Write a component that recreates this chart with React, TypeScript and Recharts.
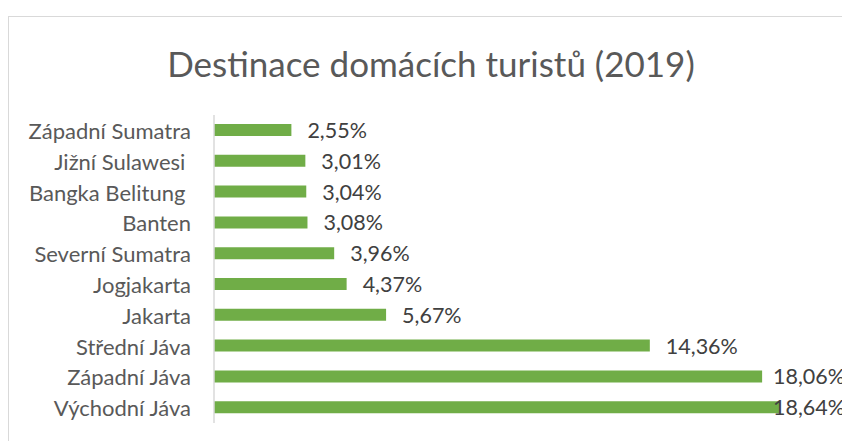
import React from 'react';
import { BarChart, Bar, XAxis, YAxis, LabelList } from 'recharts';

const categories = [
  'Západní Sumatra',
  'Jižní Sulawesi ',
  'Bangka Belitung ',
  'Banten',
  'Severní Sumatra',
  'Jogjakarta',
  'Jakarta',
  'Střední Jáva',
  'Západní Jáva',
  'Východní Jáva',
];
const shares = [2.55, 3.01, 3.04, 3.08, 3.96, 4.37, 5.67, 14.36, 18.06, 18.64];
const title = 'Destinace domácích turistů (2019)';

const data = categories.map((name, i) => ({ name, value: shares[i] }));

const FONT = 'Lato, "Open Sans", sans-serif';

const CategoryTick = (props: any) => {
  const { x, y, payload } = props;
  return (
    <text
      x={x - 15}
      y={y}
      textAnchor="end"
      dominantBaseline="central"
      xmlSpace="preserve"
      style={{ whiteSpace: 'pre' }}
      fill="#595959"
      fontSize={22}
      fontFamily={FONT}
    >
      {payload.value}
    </text>
  );
};

const ValueLabel = (props: any) => {
  const { x, y, width, height, value } = props;
  const tx = Math.min(x + width + 16, 773);
  return (
    <text
      x={tx}
      y={y + height / 2}
      dominantBaseline="central"
      fill="#404040"
      fontSize={21.5}
      fontFamily={FONT}
    >
      {value.toFixed(2).replace('.', ',') + '%'}
    </text>
  );
};

export default function App() {
  return (
    <div style={{ position: 'absolute', left: 0, top: 0, width: 842, height: 441, background: '#fff', overflow: 'hidden' }}>
      <div
        style={{
          position: 'absolute',
          left: 8,
          top: 16,
          width: 900,
          height: 500,
          border: '1px solid #d9d9d9',
          boxSizing: 'border-box',
        }}
      />
      <div
        style={{
          position: 'absolute',
          left: 0,
          width: 862,
          top: 39,
          textAlign: 'center',
          fontFamily: FONT,
          fontSize: 35,
          lineHeight: '48px',
          color: '#595959',
          fontWeight: 400,
        }}
      >
        {title}
      </div>
      <div style={{ position: 'absolute', left: 0, top: 0 }}>
        <BarChart
          width={842}
          height={441}
          data={data}
          layout="vertical"
          margin={{ top: 115, right: 21, bottom: 18, left: 0 }}
        >
          <XAxis type="number" domain={[0, 20]} hide />
          <YAxis
            type="category"
            dataKey="name"
            width={214}
            axisLine={{ stroke: '#d9d9d9', strokeWidth: 1.5 }}
            tickLine={false}
            tick={<CategoryTick />}
            interval={0}
          />
          <Bar dataKey="value" fill="#70AD47" barSize={12} isAnimationActive={false}>
            <LabelList dataKey="value" content={<ValueLabel />} />
          </Bar>
        </BarChart>
      </div>
    </div>
  );
}
